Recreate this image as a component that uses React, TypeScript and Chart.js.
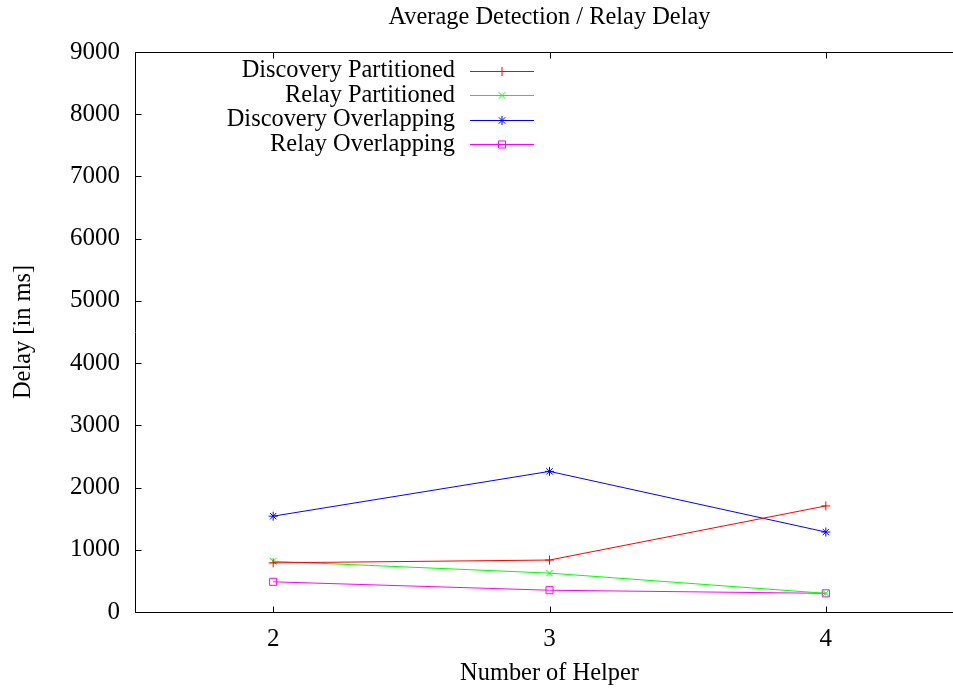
import React, { useEffect, useRef } from 'react';
import { Chart, registerables } from 'chart.js';

Chart.register(...registerables);

const TITLE = 'Average Detection / Relay Delay';
const X_LABEL = 'Number of Helper';
const Y_LABEL = 'Delay [in ms]';

const HELPERS = [2, 3, 4];
const X_TICKS = [2, 3, 4];
const Y_TICKS = [0, 1000, 2000, 3000, 4000, 5000, 6000, 7000, 8000, 9000];

const SERIES_NAMES = [
  'Discovery Partitioned',
  'Relay Partitioned',
  'Discovery Overlapping',
  'Relay Overlapping',
];
const DISCOVERY_PARTITIONED = [790, 835, 1705];
const RELAY_PARTITIONED = [815, 625, 300];
const DISCOVERY_OVERLAPPING = [1540, 2260, 1285];
const RELAY_OVERLAPPING = [485, 350, 300];

const SERIES_VALUES = [
  DISCOVERY_PARTITIONED,
  RELAY_PARTITIONED,
  DISCOVERY_OVERLAPPING,
  RELAY_OVERLAPPING,
];
const COLORS = ['#ff0000', '#00ff00', '#0000ff', '#ff00ff'];
const STYLES = ['cross', 'crossRot', 'star', 'rect'];
const RADII = [4.5, 4.5, 4.5, 5];

const FONT_FAMILY = "'Liberation Serif', 'Times New Roman', serif";
const TEXT_SIZE = 24.4;
const TICK_SIZE = 25;
const CANVAS_W = 970;
const CANVAS_H = 688;

function drawMarker(ctx: CanvasRenderingContext2D, style: string, x: number, y: number, r: number) {
  ctx.beginPath();
  if (style === 'cross' || style === 'star') {
    ctx.moveTo(x - r, y);
    ctx.lineTo(x + r, y);
    ctx.moveTo(x, y - r);
    ctx.lineTo(x, y + r);
  }
  if (style === 'crossRot' || style === 'star') {
    const d = r * Math.SQRT1_2;
    ctx.moveTo(x - d, y - d);
    ctx.lineTo(x + d, y + d);
    ctx.moveTo(x - d, y + d);
    ctx.lineTo(x + d, y - d);
  }
  if (style === 'rect') {
    const s = r * Math.SQRT1_2;
    ctx.rect(x - s, y - s, 2 * s, 2 * s);
  }
  ctx.stroke();
}

const framePlugin = {
  id: 'gnuFrame',
  beforeDatasetsDraw(chart: any) {
    const { ctx, chartArea } = chart;
    const xs = chart.scales.x;
    const ys = chart.scales.y;
    const L = Math.round(chartArea.left) + 0.5;
    const R = Math.round(chartArea.right) + 0.5;
    const T = Math.round(chartArea.top) + 0.5;
    const B = Math.round(chartArea.bottom) + 0.5;
    const tl = 6;
    ctx.save();
    ctx.strokeStyle = '#000';
    ctx.lineWidth = 1;
    ctx.beginPath();
    Y_TICKS.forEach((v) => {
      const py = Math.round(ys.getPixelForValue(v)) + 0.5;
      ctx.moveTo(L, py);
      ctx.lineTo(L + tl, py);
      ctx.moveTo(R, py);
      ctx.lineTo(R - tl, py);
    });
    X_TICKS.forEach((v) => {
      const px = Math.round(xs.getPixelForValue(v)) + 0.5;
      ctx.moveTo(px, B);
      ctx.lineTo(px, B - tl);
      ctx.moveTo(px, T);
      ctx.lineTo(px, T + tl);
    });
    ctx.stroke();
    ctx.beginPath();
    ctx.rect(L, T, R - L, B - T);
    ctx.stroke();
    // title centred on the plot area
    ctx.font = `${TEXT_SIZE}px ${FONT_FAMILY}`;
    ctx.fillStyle = '#000';
    ctx.textAlign = 'center';
    ctx.textBaseline = 'middle';
    ctx.fillText(TITLE, (chartArea.left + chartArea.right) / 2, 17.5);
    ctx.restore();
  },
};

const legendPlugin = {
  id: 'gnuLegend',
  afterDraw(chart: any) {
    const { ctx } = chart;
    ctx.save();
    ctx.font = `${TEXT_SIZE}px ${FONT_FAMILY}`;
    ctx.textAlign = 'right';
    ctx.textBaseline = 'middle';
    chart.data.datasets.forEach((ds: any, i: number) => {
      const y = 71 + i * 24.4;
      const ly = Math.round(y) + 0.5;
      ctx.fillStyle = '#000';
      ctx.fillText(ds.label, 455, y);
      ctx.strokeStyle = ds.borderColor;
      ctx.lineWidth = 1;
      ctx.beginPath();
      ctx.moveTo(470, ly);
      ctx.lineTo(534, ly);
      ctx.stroke();
      drawMarker(ctx, ds.pointStyle, 502, ly, ds.pointRadius);
    });
    ctx.restore();
  },
};

export default function App() {
  const canvasRef = useRef<HTMLCanvasElement | null>(null);

  useEffect(() => {
    const canvas = canvasRef.current;
    if (!canvas) return;
    const datasets = SERIES_NAMES.map((name, i) => ({
      label: name,
      data: HELPERS.map((x, j) => ({ x, y: SERIES_VALUES[i][j] })),
      borderColor: COLORS[i],
      backgroundColor: 'rgba(0,0,0,0)',
      borderWidth: 1,
      pointStyle: STYLES[i],
      pointRadius: RADII[i],
      pointBorderWidth: 1,
      pointBorderColor: COLORS[i],
      pointBackgroundColor: 'rgba(0,0,0,0)',
      tension: 0,
      fill: false,
    }));

    const chart = new Chart(canvas, {
      type: 'line',
      data: { datasets },
      plugins: [framePlugin, legendPlugin],
      options: {
        animation: false,
        responsive: false,
        devicePixelRatio: 1,
        layout: { padding: { left: 0, right: 2, top: 52, bottom: 0 } },
        plugins: {
          legend: { display: false },
          tooltip: { enabled: false },
          title: { display: false },
        },
        scales: {
          x: {
            type: 'linear',
            position: 'bottom',
            min: 1.5,
            max: 4.5,
            grid: { display: false, drawTicks: false },
            border: { display: false },
            afterBuildTicks: (scale: any) => {
              scale.ticks = X_TICKS.map((v) => ({ value: v }));
            },
            afterFit: (scale: any) => {
              scale.height = CANVAS_H - 612;
            },
            ticks: {
              color: '#000',
              font: { family: FONT_FAMILY, size: TICK_SIZE },
              padding: 12,
              maxRotation: 0,
              autoSkip: false,
              callback: (v: any) => String(v),
            },
            title: {
              display: true,
              text: X_LABEL,
              color: '#000',
              font: { family: FONT_FAMILY, size: TEXT_SIZE },
              padding: { top: 0, bottom: 0 },
            },
          },
          y: {
            type: 'linear',
            position: 'left',
            min: 0,
            max: 9000,
            grid: { display: false, drawTicks: false },
            border: { display: false },
            afterBuildTicks: (scale: any) => {
              scale.ticks = Y_TICKS.map((v) => ({ value: v }));
            },
            afterFit: (scale: any) => {
              scale.width = 135;
            },
            ticks: {
              color: '#000',
              font: { family: FONT_FAMILY, size: TICK_SIZE },
              padding: 15,
              autoSkip: false,
              callback: (v: any) => String(v),
            },
            title: {
              display: true,
              text: Y_LABEL,
              color: '#000',
              font: { family: FONT_FAMILY, size: TEXT_SIZE },
              padding: { top: 9, bottom: 0 },
            },
          },
        },
      },
    } as any);

    return () => chart.destroy();
  }, []);

  return (
    <div
      style={{
        position: 'fixed',
        left: 0,
        top: 0,
        width: 953,
        height: 688,
        overflow: 'hidden',
        background: '#fff',
      }}
    >
      <canvas
        ref={canvasRef}
        width={CANVAS_W}
        height={CANVAS_H}
        style={{ display: 'block', width: CANVAS_W, height: CANVAS_H }}
      />
    </div>
  );
}
